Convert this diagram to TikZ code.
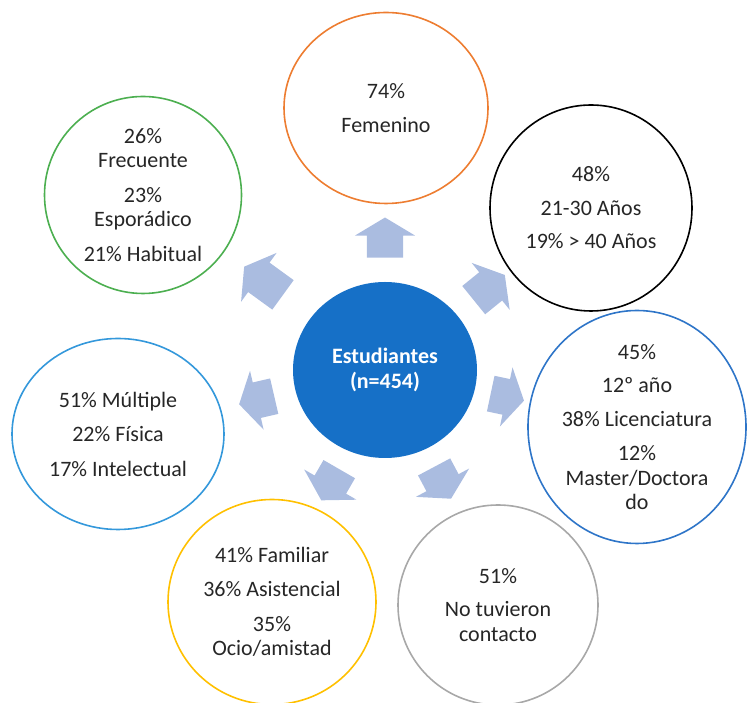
\documentclass[tikz,border=0pt]{standalone}
\usepackage{fontspec}
\setmainfont{Carlito}
\usepackage{tikz}
\usetikzlibrary{shapes.geometric,shapes.arrows}

\definecolor{hubblue}{RGB}{22,112,199}
\definecolor{spokeblue}{RGB}{170,188,224}
\definecolor{ringorange}{RGB}{237,125,49}
\definecolor{ringgreen}{RGB}{76,175,80}
\definecolor{ringblue}{RGB}{46,117,200}
\definecolor{ringcyan}{RGB}{52,152,219}
\definecolor{ringyellow}{RGB}{255,192,0}
\definecolor{ringgray}{RGB}{168,168,168}
\definecolor{txt}{RGB}{38,38,38}

\begin{document}
\begin{tikzpicture}[x=1pt, y=1pt,
    bubble/.style={ellipse, draw, line width=1.6pt, inner sep=-15pt, align=center,
        text=txt, font=\fontsize{22}{24.5}\selectfont},
    hub/.style={ellipse, fill=hubblue, inner sep=0pt, minimum width=184pt, minimum height=176pt,
        align=center, text=white, font=\fontsize{22}{25}\selectfont\bfseries},
    spoke/.style={single arrow, fill=spokeblue, inner xsep=0pt, inner ysep=18pt,
        single arrow head extend=12pt, single arrow tip angle=118, minimum height=40pt}]

    \useasboundingbox (0,0) rectangle (747,703);

    \node[hub] (est) at (385,333) {Estudiantes\\(n=454)};

    \node[bubble, draw=ringorange, minimum width=204pt, minimum height=191pt] (gen) at (386,595)
    {74\%\\[10pt]Femenino};
    \node[bubble, draw=ringgreen, minimum width=197pt, minimum height=197pt] (freq) at (143,508)
    {26\%\\Frecuente\\[10pt]23\%\\Esporádico\\[10pt]21\% Habitual};
    \node[bubble, draw=black, minimum width=202pt, minimum height=206pt] (age) at (591,495)
    {48\%\\[9pt]21-30 Años\\[9pt]19\% > 40 Años};
    \node[bubble, draw=ringblue, minimum width=218pt, minimum height=233pt] (edu) at (637,276)
    {45\%\\[9pt]12º año\\[9pt]38\% Licenciatura\\[10pt]12\%\\Master/Doctora\\do};
    \node[bubble, draw=ringgray, minimum width=200pt, minimum height=200pt] (cont) at (498,98)
    {51\%\\[9pt]No tuvieron\\contacto};
    \node[bubble, draw=ringyellow, minimum width=208pt, minimum height=205pt] (rel) at (272,101)
    {41\% Familiar\\[10pt]36\% Asistencial\\[10pt]35\%\\Ocio/amistad};
    \node[bubble, draw=ringcyan, minimum width=212pt, minimum height=191pt] (tipo) at (118,269)
    {51\% Múltiple\\[10pt]22\% Física\\[10pt]17\% Intelectual};

    \node[spoke, rotate=90] (a-gen) at (385,460) {};
    \node[spoke, rotate=144, minimum height=48pt] (a-freq) at (268,419) {};
    \node[spoke, rotate=39] (a-age) at (485,412) {};
    \node[spoke, rotate=-12, minimum height=34pt] (a-edu) at (502,307) {};
    \node[spoke, rotate=-62, minimum height=36pt] (a-cont) at (440,225) {};
    \node[spoke, rotate=-120, minimum height=36pt] (a-rel) at (333,223) {};
    \node[spoke, rotate=193, minimum height=36pt] (a-tipo) at (262,304) {};
\end{tikzpicture}
\end{document}
